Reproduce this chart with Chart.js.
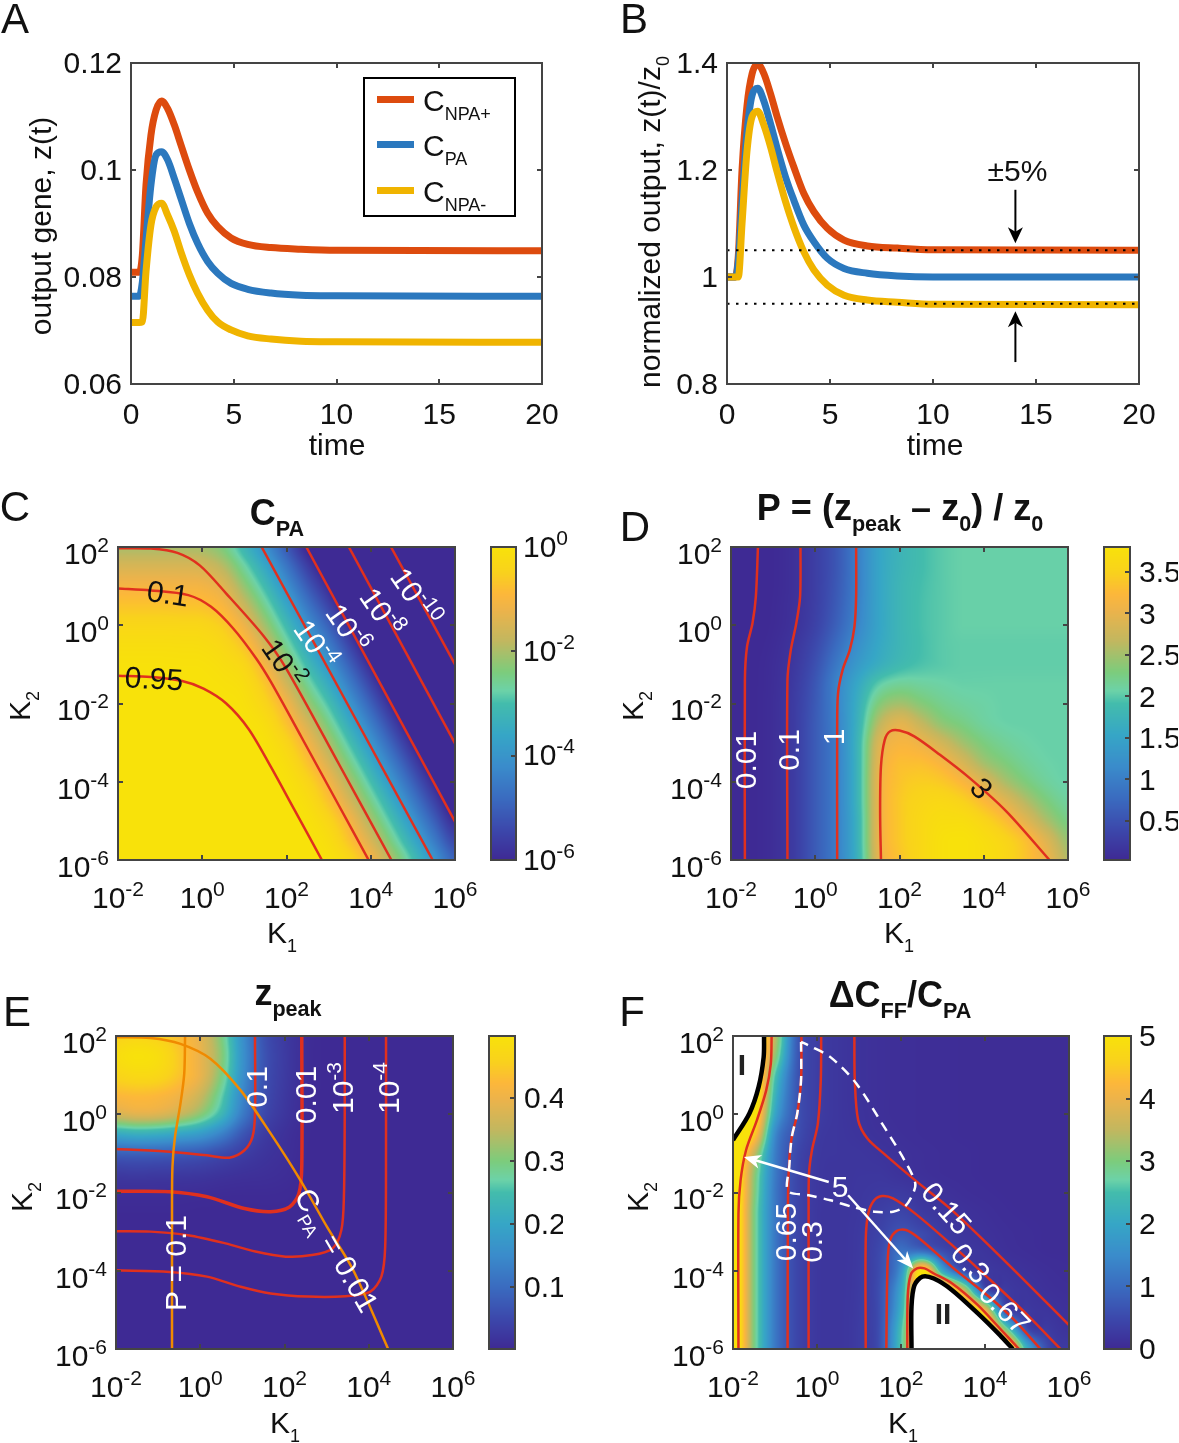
<!DOCTYPE html>
<html><head><meta charset="utf-8">
<script src="https://cdn.jsdelivr.net/npm/chart.js@4"></script>
<style>html,body{margin:0;padding:0;background:#fff}#page{position:relative;width:1179px;height:1443px;overflow:hidden}canvas{position:absolute;left:0;top:0}</style>
</head><body><div id="page"></div>
<script>
/* ---------- time-course data (panels A, B) ---------- */
const timePoints=[0,.4,.55,.73,.97,1.22,1.49,1.78,2.11,2.43,2.84,3.24,3.73,4.22,4.87,5.68,6.81,8.27,10,20];
const zNpaPlus=[.0809,.0809,.084,.0972,.1065,.1112,.1129,.1115,.1084,.1047,.1,.0959,.0919,.0894,.0873,.0861,.0855,.0852,.085,.0849];
const zPa=[.0764,.0764,.079,.087,.0972,.1028,.1034,.1019,.0984,.0947,.09,.0863,.0829,.0807,.0788,.0777,.077,.0766,.0765,.0764];
const zNpaMinus=[.0715,.0715,.0716,.081,.0897,.0931,.0938,.0916,.0885,.0847,.0804,.077,.0738,.0716,.0701,.069,.0684,.068,.0679,.0678];
const nNpaPlus=[1,1,1.04,1.2,1.32,1.38,1.398,1.381,1.343,1.3,1.25,1.206,1.156,1.122,1.091,1.069,1.058,1.054,1.051,1.05];
const nPa=[1,1,1.03,1.14,1.27,1.34,1.353,1.33,1.287,1.241,1.187,1.144,1.097,1.066,1.035,1.016,1.007,1.002,1,1];
const nNpaMinus=[1,1,1,1.1,1.235,1.3,1.31,1.285,1.244,1.197,1.141,1.094,1.047,1.013,.985,.966,.957,.953,.949,.948];
const toleranceBands=[1.05,0.95];
const timeTicks=[0,5,10,15,20];
const aTicks=[.06,.08,.1,.12], aTickLabels=['0.06','0.08','0.1','0.12'];
const bTicks=[.8,1,1.2,1.4], bTickLabels=['0.8','1','1.2','1.4'];

/* ---------- axes of the K1/K2 maps ---------- */
const k1Ticks=[1e-2,1,1e2,1e4,1e6], k1Exp=['-2','0','2','4','6'];
const k2Ticks=[1e-6,1e-4,1e-2,1,1e2], k2Exp=['-6','-4','-2','0','2'];
const gridLogK1=[-2,-1.5,-1,-.5,0,.5,1,1.5,2,2.5,3,3.5,4,4.5,5,5.5,6];
const gridLogK2=[2,1.5,1,.5,0,-.5,-1,-1.5,-2,-2.5,-3,-3.5,-4,-4.5,-5,-5.5,-6];

/* ---------- panel C: log10(C_PA) ---------- */
const mapC=[
[-2,-2,-2,-2,-2.05,-2.4,-3.2,-4.1,-5.1,-6.1,-7,-8,-8,-8,-8,-8,-8],
[-1.5,-1.5,-1.5,-1.5,-1.55,-1.9,-2.7,-3.6,-4.6,-5.6,-6.5,-7.5,-8,-8,-8,-8,-8],
[-1.05,-1.05,-1.05,-1.07,-1.1,-1.4,-2.2,-3.1,-4.1,-5.1,-6,-7,-8,-8,-8,-8,-8],
[-.7,-.7,-.7,-.72,-.75,-1,-1.7,-2.6,-3.6,-4.6,-5.5,-6.5,-7.5,-8,-8,-8,-8],
[-.35,-.35,-.35,-.36,-.38,-.6,-1.2,-2.1,-3.1,-4.1,-5,-6,-7,-8,-8,-8,-8],
[-.15,-.15,-.15,-.16,-.18,-.33,-.75,-1.6,-2.6,-3.6,-4.5,-5.5,-6.5,-7.5,-8,-8,-8],
[-.04,-.04,-.04,-.05,-.06,-.16,-.38,-1.1,-2.1,-3.1,-4,-5,-6,-7,-8,-8,-8],
[-.01,-.01,-.01,-.01,-.02,-.06,-.18,-.7,-1.6,-2.6,-3.5,-4.5,-5.5,-6.5,-7.5,-8,-8],
[0,0,0,0,0,-.01,-.08,-.42,-1.1,-2.1,-3,-4,-5,-6,-7,-8,-8],
[0,0,0,0,0,0,-.02,-.18,-.75,-1.55,-2.5,-3.5,-4.5,-5.5,-6.5,-7.5,-8],
[0,0,0,0,0,0,0,-.05,-.4,-1.1,-2,-3,-4,-5,-6,-7,-8],
[0,0,0,0,0,0,0,-.01,-.18,-.74,-1.54,-2.5,-3.5,-4.5,-5.5,-6.5,-7.5],
[0,0,0,0,0,0,0,0,-.05,-.4,-1.08,-2,-3,-4,-5,-6,-7],
[0,0,0,0,0,0,0,0,-.01,-.18,-.73,-1.53,-2.5,-3.5,-4.5,-5.5,-6.45],
[0,0,0,0,0,0,0,0,0,-.05,-.38,-1.05,-2,-3,-4,-5,-5.95],
[0,0,0,0,0,0,0,0,0,-.01,-.17,-.73,-1.51,-2.5,-3.5,-4.5,-5.45],
[0,0,0,0,0,0,0,0,0,0,-.05,-.37,-1.05,-2,-3,-4,-4.95]];
const cLevel095=[[-2,-1.29],[-1.22,-1.32],[-.5,-1.42],[.03,-1.62],[.57,-2],[1.1,-2.65],[1.63,-3.62],[2.17,-4.68],[2.84,-6]];
const cLevel01=[[-2,.94],[-1.22,.89],[-.33,.77],[.21,.47],[.74,-.09],[1.28,-.85],[1.63,-1.45],[2.35,-2.85],[3.24,-4.6],[3.95,-6]];
const cLevelE2=[[-2,1.97],[-1.22,1.96],[-.59,1.85],[-.06,1.53],[.57,.81],[1.46,-.28],[1.99,-1.1],[3.24,-3.54],[4.49,-6]];
const cLevelE4=[[1.41,2],[5.47,-6]];
const cLevelE6=[[2.47,2],[6,-5.02]];
const cLevelE8=[[3.48,2],[6,-3.02]];
const cLevelE10=[[4.48,2],[6,-1]];

/* ---------- panel D: peak P ---------- */
const mapD=[
[.005,.012,.035,.11,.28,.55,1,1.5,1.75,1.9,2,2.05,2.05,2.05,2.05,2.05,2.05],
[.005,.012,.035,.11,.28,.55,1,1.5,1.76,1.9,2,2.05,2.05,2.05,2.05,2.05,2.05],
[.005,.012,.035,.11,.28,.57,1,1.5,1.78,1.92,2,2.05,2.05,2.05,2.05,2.05,2.05],
[.005,.013,.04,.12,.29,.6,1.03,1.5,1.78,1.93,2,2.05,2.05,2.05,2.05,2.05,2.05],
[.006,.015,.045,.13,.32,.66,1.08,1.5,1.78,1.93,2,2.05,2.05,2.05,2.05,2.05,2.05],
[.007,.02,.06,.17,.4,.78,1.2,1.55,1.78,1.92,2,2.03,2.03,2.03,2.03,2.03,2.03],
[.008,.025,.075,.2,.48,.92,1.35,1.65,1.85,1.95,2,2.03,2.03,2.03,2.03,2.03,2.03],
[.008,.027,.08,.23,.55,1.05,1.55,2,2.15,2.12,2.08,2.05,2.05,2.05,2.05,2.05,2.05],
[.008,.028,.085,.25,.58,1.05,1.65,2.3,2.5,2.35,2.2,2.12,2.08,2.05,2.05,2.05,2.05],
[.008,.028,.085,.25,.6,1.03,1.7,2.6,2.95,2.7,2.4,2.25,2.12,2.06,2.05,2.05,2.05],
[.008,.028,.085,.25,.6,1,1.75,2.85,3.15,3.05,2.8,2.5,2.28,2.15,2.08,2.05,2.05],
[.008,.028,.085,.25,.6,1,1.75,2.95,3.3,3.3,3.15,2.85,2.5,2.3,2.15,2.07,2.05],
[.008,.028,.085,.25,.6,1,1.75,3,3.35,3.45,3.4,3.2,2.9,2.55,2.3,2.13,2.05],
[.008,.028,.085,.25,.6,1,1.75,3,3.4,3.55,3.6,3.5,3.25,2.95,2.6,2.3,2.12],
[.008,.028,.085,.25,.6,1,1.72,3,3.4,3.6,3.7,3.7,3.55,3.3,2.95,2.55,2.25],
[.008,.028,.085,.25,.6,1,1.72,3,3.4,3.6,3.75,3.78,3.7,3.55,3.3,2.9,2.45],
[.008,.028,.085,.25,.6,1,1.7,2.95,3.35,3.6,3.75,3.78,3.72,3.6,3.35,3.05,2.6]];
const dLevel001=[[-1.36,2],[-1.41,.73],[-1.49,.05],[-1.62,-.55],[-1.67,-1.4],[-1.67,-6]];
const dLevel01=[[-.35,2],[-.36,.73],[-.45,.05],[-.58,-.63],[-.66,-1.4],[-.66,-6]];
const dLevel1=[[.97,2],[.97,.73],[.93,-.04],[.82,-.63],[.65,-1.14],[.54,-1.74],[.52,-2.67],[.52,-6]];
const dLevel3=[[1.56,-6],[1.54,-4.79],[1.56,-3.6],[1.65,-2.93],[1.78,-2.71],[2,-2.69],[2.35,-2.84],[2.96,-3.31],[3.66,-3.9],[4.53,-4.75],[5.56,-6]];

/* ---------- panel E: z_peak ---------- */
const mapE=[
[.46,.47,.46,.43,.39,.30,.16,.066,.028,.008,.002,.001,.001,.001,.001,.001,.001],
[.485,.495,.485,.445,.395,.31,.165,.07,.03,.008,.002,.001,.001,.001,.001,.001,.001],
[.465,.475,.47,.44,.395,.30,.16,.067,.029,.008,.002,.001,.001,.001,.001,.001,.001],
[.425,.43,.425,.405,.36,.27,.145,.062,.026,.007,.002,.001,.001,.001,.001,.001,.001],
[.37,.385,.38,.355,.31,.235,.125,.052,.022,.006,.002,.001,.001,.001,.001,.001,.001],
[.21,.22,.215,.2,.18,.135,.072,.032,.014,.004,.001,.001,.001,.001,.001,.001,.001],
[.085,.088,.086,.08,.072,.054,.035,.02,.011,.003,.001,.001,.001,.001,.001,.001,.001],
[.03,.032,.03,.029,.026,.02,.015,.012,.008,.002,.001,.001,.001,.001,.001,.001,.001],
[.01,.01,.01,.009,.008,.006,.005,.005,.004,.001,.001,.001,.001,.001,.001,.001,.001],
[.003,.003,.003,.003,.002,.002,.002,.002,.002,.001,.001,.001,.001,.001,.001,.001,.001],
[.001,.001,.001,.001,.001,.001,.001,.001,.001,.001,.001,.001,.001,.001,.001,.001,.001],
[.001,.001,.001,.001,.001,.001,.001,.001,.001,.001,.001,.001,.001,.001,.001,.001,.001],
[.001,.001,.001,.001,.001,.001,.001,.001,.001,.001,.001,.001,.001,.001,.001,.001,.001],
[.001,.001,.001,.001,.001,.001,.001,.001,.001,.001,.001,.001,.001,.001,.001,.001,.001],
[.001,.001,.001,.001,.001,.001,.001,.001,.001,.001,.001,.001,.001,.001,.001,.001,.001],
[.001,.001,.001,.001,.001,.001,.001,.001,.001,.001,.001,.001,.001,.001,.001,.001,.001],
[.001,.001,.001,.001,.001,.001,.001,.001,.001,.001,.001,.001,.001,.001,.001,.001,.001]];
const eLevel01=[[1.3,2],[1.3,.02],[1.24,-.58],[1.05,-.92],[.69,-1.11],[.16,-1.05],[-.73,-.96],[-2,-.89]];
const eLevel001=[[2.41,2],[2.41,-1.34],[2.34,-2.03],[2.12,-2.37],[1.67,-2.49],[1.05,-2.41],[.16,-2.11],[-.73,-1.98],[-2,-1.97]];
const eLevelE3=[[3.43,2],[3.43,.02],[3.41,-2.11],[3.35,-2.96],[3.14,-3.43],[2.65,-3.6],[2.03,-3.64],[1.31,-3.51],[.6,-3.3],[-.29,-3.09],[-1.18,-3],[-2,-2.99]];
const eLevelE4=[[4.41,2],[4.41,-.83],[4.39,-3.39],[4.3,-4.15],[4.03,-4.54],[3.45,-4.65],[2.56,-4.66],[1.67,-4.58],[.96,-4.41],[.16,-4.15],[-.73,-4.03],[-2,-3.99]];
const ePeak01=[[-.36,2],[-.38,1.04],[-.47,.27],[-.6,-.58],[-.66,-1.34],[-.67,-2.54],[-.67,-6]];
const eCpa001=[[-2,1.97],[-1.18,1.95],[-.47,1.8],[.24,1.42],[.96,.61],[1.67,-.49],[2.38,-1.69],[3.01,-2.88],[3.63,-3.98],[4.46,-6]];

/* ---------- panel F: delta C_FF / C_PA ---------- */
const mapF=[
[5.5,5.5,3.5,.85,.32,.2,.14,.1,.08,.07,.06,.05,.05,.05,.05,.05,.05],
[5.5,5.5,3.2,.82,.32,.2,.14,.1,.08,.07,.06,.05,.05,.05,.05,.05,.05],
[5.5,5.5,2.6,.75,.32,.2,.14,.1,.08,.07,.06,.05,.05,.05,.05,.05,.05],
[5.5,5.5,2.3,.72,.32,.2,.14,.1,.08,.07,.06,.05,.05,.05,.05,.05,.05],
[5.5,5.2,2,.7,.32,.2,.15,.1,.08,.07,.06,.05,.05,.05,.05,.05,.05],
[5.5,4.6,1.5,.62,.27,.2,.16,.12,.09,.07,.06,.05,.05,.05,.05,.05,.05],
[5.5,3.6,1.3,.5,.24,.2,.19,.16,.12,.09,.07,.06,.05,.05,.05,.05,.05],
[5.5,3.2,1.25,.48,.23,.19,.2,.2,.14,.1,.07,.06,.05,.05,.05,.05,.05],
[5.5,3.1,1.2,.47,.23,.19,.21,.25,.26,.17,.12,.08,.06,.05,.05,.05,.05],
[5.5,3,1.2,.47,.22,.19,.22,.33,.42,.26,.19,.13,.09,.06,.05,.05,.05],
[5.5,3,1.2,.47,.22,.19,.24,.4,.65,.5,.27,.17,.12,.08,.06,.05,.05],
[5.5,3,1.2,.47,.22,.19,.25,.5,1.1,1.05,.55,.27,.17,.1,.07,.05,.05],
[5.5,3,1.2,.47,.22,.19,.26,.55,1.6,5,2,.55,.27,.18,.12,.08,.06],
[5.5,3,1.2,.47,.22,.19,.27,.6,2,5.5,5.5,3.6,.67,.28,.18,.11,.08],
[5.5,3,1.2,.47,.22,.19,.28,.6,2.2,5.5,5.5,5.5,4,.6,.25,.17,.11],
[5.5,3,1.2,.47,.22,.19,.29,.62,2.5,5.5,5.5,5.5,5.5,3,.55,.27,.15],
[5.5,3,1.2,.47,.22,.19,.29,.62,2.6,5.5,5.5,5.5,5.5,5.5,2.2,.5,.24]];
const fBoundI=[[-1.26,2],[-1.27,1.46],[-1.39,.7],[-1.61,.02],[-2,-.66]];
const fBoundII=[[2.25,-6],[2.25,-4.92],[2.32,-4.37],[2.51,-4.15],[2.78,-4.2],[3.21,-4.49],[3.83,-5.09],[4.35,-5.64],[4.66,-6]];
const fRegionI=[[-2,2],[-1.26,2],[-1.27,1.46],[-1.3,1.1],[-1.39,.7],[-1.5,.33],[-1.61,.02],[-1.8,-.34],[-2,-.66]];
const fRegionII=[[2.25,-6],[2.25,-4.92],[2.32,-4.37],[2.51,-4.15],[2.78,-4.2],[3.21,-4.49],[3.83,-5.09],[4.35,-5.64],[4.66,-6]];
const fLevel5a=[[-1.08,2],[-1.1,1.29],[-1.21,.61],[-1.43,-.15],[-1.69,-.92],[-1.82,-1.69],[-1.87,-2.54],[-1.87,-6]];
const fLevel5b=[[2.15,-6],[2.16,-4.66],[2.23,-4.11],[2.38,-3.94],[2.56,-3.94],[2.78,-4.07],[3.21,-4.32],[3.83,-4.88],[4.35,-5.47],[4.81,-6]];
const fLevel065=[[-.37,2],[-.38,.87],[-.47,.02],[-.6,-.58],[-.66,-1.17],[-.69,-2.11],[-.7,-6]];
const fLevel03a=[[.1,2],[.09,.87],[.02,-.24],[-.12,-.92],[-.19,-1.51],[-.2,-2.54],[-.2,-6]];
const fLevel015=[[.89,2],[.9,.87],[.98,-.15],[1.2,-.62],[1.64,-1.05],[2.34,-1.69],[3.21,-2.45],[4.53,-3.81],[6,-5.39]];
const fLevel03b=[[1.16,-6],[1.16,-3.22],[1.22,-2.54],[1.36,-2.2],[1.55,-2.09],[1.81,-2.15],[2.34,-2.54],[3.21,-3.34],[4.09,-4.2],[4.97,-5.09],[5.8,-6]];
const fLevel067=[[1.65,-6],[1.68,-3.81],[1.74,-3.22],[1.9,-2.98],[2.12,-2.96],[2.43,-3.17],[3.21,-3.9],[4.09,-4.66],[4.7,-5.26],[5.32,-6]];
const fDashed=[[-.38,1.85],[-.38,.87],[-.47,.02],[-.6,-.58],[-.66,-1.34],[-.69,-1.96],[-.2,-2.07],[.32,-2.2],[.85,-2.37],[1.37,-2.49],[1.81,-2.49],[2.08,-2.37],[2.25,-2.11],[2.34,-1.77],[2.08,-1.17],[1.55,-.24],[.94,.78],[.32,1.46],[-.2,1.76],[-.38,1.85]];

/* ---------- colour bar ticks ---------- */
const barCTicks=[1e-6,1e-4,1e-2,1], barCExp=['-6','-4','-2','0'];
const barDTicks=[.5,1,1.5,2,2.5,3,3.5], barDLabels=['0.5','1','1.5','2','2.5','3','3.5'];
const barETicks=[.1,.2,.3,.4], barELabels=['0.1','0.2','0.3','0.4'];
const barFTicks=[0,1,2,3,4,5], barFLabels=['0','1','2','3','4','5'];

/* ---------- look ---------- */
const W=1179,H=1443,FONT='"Liberation Sans"',BOX='#444444',INK='#111111';
const ORANGE='#DD4B0E',BLUE='#2B78BE',YELLOW='#F0B400',RED='#E0301E',AMBER='#F08A00';
const TXT=30,TITLE=36,LETTER=42;
const STOPS=[[0,62,42,148],[.1,60,73,172],[.2,58,108,192],[.3,58,140,203],[.4,54,166,198],[.5,67,188,172],[.54,108,210,168],[.6,124,204,124],[.7,194,183,95],[.8,237,179,74],[.85,252,183,58],[.92,249,210,28],[1,248,226,10]];
function cmap(t){t=Math.max(0,Math.min(1,t));for(let i=1;i<STOPS.length;i++){if(t<=STOPS[i][0]){const a=STOPS[i-1],b=STOPS[i],f=(t-a[0])/(b[0]-a[0]);return [a[1]+(b[1]-a[1])*f,a[2]+(b[2]-a[2])*f,a[3]+(b[3]-a[3])*f];}}return STOPS[STOPS.length-1].slice(1);}

/* rich text with _{sub} and ^{sup} */
function rich(ctx,str,x,y,o={}){
  const size=o.size||TXT,weight=o.bold?'bold ':'',color=o.color||INK,align=o.align||'c',rot=(o.rot||0)*Math.PI/180;
  const toks=str.match(/\^\{[^}]*\}|_\{[^}]*\}|[^_^]+/g)||[];
  const segs=toks.map(t=>{
    if(t[0]==='^')return{t:t.slice(2,-1),s:size*.70,dy:-size*.40};
    if(t[0]==='_')return{t:t.slice(2,-1),s:size*.60,dy:size*.30};
    return{t,s:size,dy:0};});
  ctx.save();ctx.fillStyle=color;ctx.textAlign='left';ctx.textBaseline='alphabetic';
  let total=0;segs.forEach(s=>{ctx.font=weight+s.s+'px '+FONT;s.w=ctx.measureText(s.t).width;total+=s.w;});
  ctx.translate(x,y);ctx.rotate(rot);
  let cx=align==='c'?-total/2:align==='r'?-total:0;
  segs.forEach(s=>{ctx.font=weight+s.s+'px '+FONT;ctx.fillText(s.t,cx,size*.36+s.dy);cx+=s.w;});
  ctx.restore();
}
function arrow(ctx,x0,y0,x1,y1,color,lw,len,wid){
  const a=Math.atan2(y1-y0,x1-x0);ctx.save();ctx.strokeStyle=color;ctx.fillStyle=color;ctx.lineWidth=lw;
  ctx.beginPath();ctx.moveTo(x0,y0);ctx.lineTo(x1-Math.cos(a)*len*.7,y1-Math.sin(a)*len*.7);ctx.stroke();
  ctx.translate(x1,y1);ctx.rotate(a);ctx.beginPath();ctx.moveTo(0,0);ctx.lineTo(-len,-wid/2);ctx.lineTo(-len*.72,0);ctx.lineTo(-len,wid/2);ctx.closePath();ctx.fill();ctx.restore();
}
const pts=a=>a.map(p=>({x:10**p[0],y:10**p[1]}));
const contour=(a,color=RED,w=2.5,extra={})=>Object.assign({data:pts(a),borderColor:color,borderWidth:w,pointRadius:0,tension:.3,fill:false},extra);
const series=(ys,color,w=7)=>({data:timePoints.map((t,i)=>({x:t,y:ys[i]})),borderColor:color,borderWidth:w,pointRadius:0,cubicInterpolationMode:'monotone',fill:false,borderCapStyle:'butt'});

const boxPlugin=(mirror=true)=>({id:'box',afterDatasetsDraw(ch){
  const c=ch.ctx,a=ch.chartArea,X=ch.scales.x,Y=ch.scales.y;c.save();c.strokeStyle=BOX;c.lineWidth=2;
  if(X.options.display!==false){X.ticks.forEach(t=>{const p=Math.round(X.getPixelForValue(t.value));c.beginPath();c.moveTo(p,a.bottom);c.lineTo(p,a.bottom-5);c.moveTo(p,a.top);c.lineTo(p,a.top+5);c.stroke();});}
  Y.ticks.forEach(t=>{const p=Math.round(Y.getPixelForValue(t.value));c.beginPath();if(mirror){c.moveTo(a.left,p);c.lineTo(a.left+5,p);}c.moveTo(a.right,p);c.lineTo(a.right-5,p);c.stroke();});
  c.strokeRect(a.left,a.top,a.width,a.height);c.restore();}});

/* heat map: grid values placed through the chart's own log scales */
function heatPlugin(matrix,norm){
  const cr=(p0,p1,p2,p3,f)=>{const v=.5*(2*p1+(p2-p0)*f+(2*p0-5*p1+4*p2-p3)*f*f+(3*p1-p0-3*p2+p3)*f*f*f);return Math.max(Math.min(p1,p2)-.02*Math.abs(p1-p2),Math.min(Math.max(p1,p2)+.02*Math.abs(p1-p2),v));};
  const n=gridLogK1.length,m=gridLogK2.length,x0=gridLogK1[0],dx=gridLogK1[1]-x0,y0=gridLogK2[0],dy=gridLogK2[1]-y0;
  const at=(r,c)=>matrix[Math.max(0,Math.min(m-1,r))][Math.max(0,Math.min(n-1,c))];
  return {id:'heat',beforeDatasetsDraw(ch){
    const a=ch.chartArea,X=ch.scales.x,Y=ch.scales.y,w=Math.round(a.width),h=Math.round(a.height);
    const off=document.createElement('canvas');off.width=w;off.height=h;const oc=off.getContext('2d'),img=oc.createImageData(w,h);
    for(let py=0;py<h;py++){const ly=(Math.log10(Y.getValueForPixel(a.top+py+.5))-y0)/dy;const r=Math.max(0,Math.min(m-1.001,ly)),ri=Math.floor(r),rf=r-ri;
      for(let px=0;px<w;px++){const lx=(Math.log10(X.getValueForPixel(a.left+px+.5))-x0)/dx;const q=Math.max(0,Math.min(n-1.001,lx)),ci=Math.floor(q),cf=q-ci;
        const col=[-1,0,1,2].map(k=>cr(at(ri+k,ci-1),at(ri+k,ci),at(ri+k,ci+1),at(ri+k,ci+2),cf));
        const v=cr(col[0],col[1],col[2],col[3],rf),rgb=cmap(norm(v)),i=(py*w+px)*4;
        img.data[i]=rgb[0];img.data[i+1]=rgb[1];img.data[i+2]=rgb[2];img.data[i+3]=255;}}
    oc.putImageData(img,0,0);ch.ctx.drawImage(off,a.left,a.top);}};
}
function barPlugin(norm){return {id:'bar',beforeDatasetsDraw(ch){
  const a=ch.chartArea,Y=ch.scales.y,c=ch.ctx;
  for(let py=Math.floor(a.top);py<a.bottom;py++){const rgb=cmap(norm(Y.getValueForPixel(py+.5)));c.fillStyle='rgb('+rgb.map(Math.round).join(',')+')';c.fillRect(a.left,py,a.width,1);}}};}
const logLabels=()=>({id:'logLabels',afterDraw(ch){
  const c=ch.ctx,a=ch.chartArea,X=ch.scales.x,Y=ch.scales.y;
  k1Ticks.forEach((v,i)=>rich(c,'10^{'+k1Exp[i]+'}',X.getPixelForValue(v),a.bottom+37,{}));
  k2Ticks.forEach((v,i)=>rich(c,'10^{'+k2Exp[i]+'}',a.left-9,Y.getPixelForValue(v)+6,{align:'r'}));}});
const overlay=(fn)=>({id:'overlay',afterDraw(ch){fn(ch.ctx,ch);}});

const page=document.getElementById('page');
const AXL=100,AXB=60,AXR=48;
function mount(rect,config,plugins,kind){
  const cv=document.createElement('canvas');cv.width=W;cv.height=H;cv.style.width=W+'px';cv.style.height=H+'px';page.appendChild(cv);
  const pad={left:rect[0],top:rect[1],right:W-rect[2],bottom:H-rect[3]};
  if(kind==='time'){pad.left-=AXL;pad.bottom-=AXB;}
  if(kind==='bar'){pad.right-=AXR;}
  const n=config.data.datasets.length;config.data.datasets.forEach((d,i)=>{d.order=n-i;});
  config.options=Object.assign({responsive:false,animation:false,devicePixelRatio:1,events:[],layout:{padding:pad},
    plugins:{legend:{display:false},tooltip:{enabled:false}}},config.options);
  return new Chart(cv,{type:'line',data:config.data,options:config.options,plugins});
}
const font={family:FONT,size:TXT};
const noGrid={display:false,drawTicks:false};
const linX=(vals)=>({type:'linear',min:0,max:20,grid:noGrid,border:{display:false},afterBuildTicks:s=>{s.ticks=vals.map(v=>({value:v}));},afterFit:s=>{s.height=AXB;},ticks:{autoSkip:false,maxRotation:0,color:INK,font,padding:14,callback:v=>String(v)}});
const linY=(min,max,vals,labels,pos='left',pad=9)=>({type:'linear',position:pos,min,max,grid:noGrid,border:{display:false},afterBuildTicks:s=>{s.ticks=vals.map(v=>({value:v}));},afterFit:s=>{s.width=pos==='left'?AXL:AXR;},ticks:{autoSkip:false,color:INK,font,padding:pad,labelOffset:2,callback:(v,i)=>labels[i]}});
const logAxis=(vals,isX)=>({type:'logarithmic',min:Math.min(...vals),max:Math.max(...vals),grid:noGrid,border:{display:false},ticks:{display:false},afterBuildTicks:s=>{s.ticks=vals.map(v=>({value:v}));},afterFit:s=>{if(isX)s.height=0;else s.width=0;}});
const hiddenX={display:false,min:0,max:1,type:'linear'};

/* ===== A ===== */
mount([131,63,542,384],{data:{datasets:[series(zNpaPlus,ORANGE),series(zPa,BLUE),series(zNpaMinus,YELLOW)]},
  options:{scales:{x:linX(timeTicks),y:linY(.06,.12,aTicks,aTickLabels)}}},[boxPlugin(),overlay((c)=>{
  rich(c,'A',15,18,{size:LETTER});
  rich(c,'time',337,444);
  rich(c,'output gene, z(t)',40,226,{rot:-90});
  c.save();c.fillStyle='#fff';c.fillRect(364,78,151,138);c.strokeStyle='#000';c.lineWidth=2;c.strokeRect(364,78,151,138);c.restore();
  [[99,ORANGE,'C_{NPA+}'],[144,BLUE,'C_{PA}'],[190,YELLOW,'C_{NPA-}']].forEach(r=>{c.fillStyle=r[1];c.fillRect(377,r[0]-3,37,7);rich(c,r[2],423,r[0]+1,{align:'l'});});
})],'time');

/* ===== B ===== */
const bandSet=v=>({data:[{x:0,y:v},{x:20,y:v}],borderColor:'#000',borderWidth:2,borderDash:[2.5,6.5],pointRadius:0,fill:false});
mount([727,63,1139,384],{data:{datasets:[series(nNpaPlus,ORANGE),series(nPa,BLUE),series(nNpaMinus,YELLOW),bandSet(toleranceBands[0]),bandSet(toleranceBands[1])]},
  options:{scales:{x:linX(timeTicks),y:linY(.8,1.4,bTicks,bTickLabels)}}},[boxPlugin(),overlay((c,ch)=>{
  const X=ch.scales.x,Y=ch.scales.y;
  rich(c,'B',634,18,{size:LETTER});
  rich(c,'time',935,444);
  rich(c,'normalized output, z(t)/z_{0}',649,222,{rot:-90});
  rich(c,'±5%',X.getPixelForValue(14.1),Y.getPixelForValue(1.2));
  arrow(c,X.getPixelForValue(14),Y.getPixelForValue(1.163),X.getPixelForValue(14),Y.getPixelForValue(1.063),'#000',2,16,15);
  arrow(c,X.getPixelForValue(14),Y.getPixelForValue(.841),X.getPixelForValue(14),Y.getPixelForValue(.936),'#000',2,16,15);
})],'time');

/* ===== C ===== */
mount([118,547,455,860],{data:{datasets:[cLevel095,cLevel01,cLevelE2,cLevelE4,cLevelE6,cLevelE8,cLevelE10].map(a=>contour(a))},
  options:{scales:{x:logAxis(k1Ticks,true),y:logAxis(k2Ticks,false)}}},[heatPlugin(mapC,v=>(v+6)/6),boxPlugin(),logLabels(),overlay(c=>{
  rich(c,'C',15,506,{size:LETTER});
  rich(c,'C_{PA}',277,512,{size:TITLE,bold:true});
  rich(c,'K_{1}',282,932);
  rich(c,'K_{2}',19.5,706,{rot:-90});
  rich(c,'0.1',168,593,{rot:8});
  rich(c,'0.95',154,678,{rot:3});
  rich(c,'10^{-2}',284,663,{rot:55});
  rich(c,'10^{-4}',316,644,{rot:55,color:'#fff'});
  rich(c,'10^{-6}',348,628,{rot:55,color:'#fff'});
  rich(c,'10^{-8}',382,612,{rot:55,color:'#fff'});
  rich(c,'10^{-10}',416,597,{rot:55,color:'#fff'});
})]);
mount([491,547,516,860],{data:{datasets:[]},options:{scales:{x:hiddenX,y:Object.assign(logAxis(barCTicks,false),{position:'right'})}}},
  [barPlugin(v=>(Math.log10(v)+6)/6),boxPlugin(false),overlay((c,ch)=>{barCTicks.forEach((v,i)=>rich(c,'10^{'+barCExp[i]+'}',523,ch.scales.y.getPixelForValue(v)-1,{align:'l'}));})]);

/* ===== D ===== */
mount([731,547,1068,860],{data:{datasets:[dLevel001,dLevel01,dLevel1,dLevel3].map(a=>contour(a))},
  options:{scales:{x:logAxis(k1Ticks,true),y:logAxis(k2Ticks,false)}}},[heatPlugin(mapD,v=>(v-.03)/3.77),boxPlugin(),logLabels(),overlay(c=>{
  rich(c,'D',635,526,{size:LETTER});
  rich(c,'P = (z_{peak} – z_{0}) / z_{0}',900,507,{size:TITLE,bold:true});
  rich(c,'K_{1}',899,932);
  rich(c,'K_{2}',632,706,{rot:-90});
  rich(c,'0.01',745,760,{rot:-90,color:'#fff'});
  rich(c,'0.1',788,750,{rot:-90,color:'#fff'});
  rich(c,'1',833,737,{rot:-90,color:'#fff'});
  rich(c,'3',982,788,{rot:50});
})]);
mount([1104,547,1130,860],{data:{datasets:[]},options:{scales:{x:hiddenX,y:linY(.03,3.8,barDTicks,barDLabels,'right',9)}}},
  [barPlugin(v=>(v-.03)/3.77),boxPlugin(false)],'bar');

/* ===== E ===== */
mount([116,1036,453,1349],{data:{datasets:[contour(eLevel01),contour(eLevel001,RED,3.5),contour(eLevelE3),contour(eLevelE4),contour(ePeak01,AMBER),contour(eCpa001,AMBER)]},
  options:{scales:{x:logAxis(k1Ticks,true),y:logAxis(k2Ticks,false)}}},[heatPlugin(mapE,v=>(v-.002)/.496),boxPlugin(),logLabels(),overlay(c=>{
  rich(c,'E',17,1011,{size:LETTER});
  rich(c,'z_{peak}',288,992,{size:TITLE,bold:true});
  rich(c,'K_{1}',285,1422);
  rich(c,'K_{2}',21,1197,{rot:-90});
  rich(c,'P = 0.1',175,1263,{rot:-90,color:'#fff'});
  rich(c,'0.1',256,1087,{rot:-90,color:'#fff'});
  rich(c,'0.01',305,1095,{rot:-90,color:'#fff'});
  rich(c,'10^{-3}',342,1088,{rot:-90,color:'#fff'});
  rich(c,'10^{-4}',388,1088,{rot:-90,color:'#fff'});
  rich(c,'C_{PA} = 0.01',337,1250,{rot:60,color:'#fff'});
})]);
mount([489,1036,515,1349],{data:{datasets:[]},options:{scales:{x:hiddenX,y:linY(.002,.498,barETicks,barELabels,'right',9)}}},
  [barPlugin(v=>(v-.002)/.496),boxPlugin(false)],'bar');

/* ===== F ===== */
const region=a=>({data:pts(a),backgroundColor:'#fff',borderColor:'#fff',borderWidth:0,pointRadius:0,tension:0,fill:'shape'});
mount([733,1036,1069,1349],{data:{datasets:[region(fRegionI),region(fRegionII),
  contour(fLevel5a),contour(fLevel5b),contour(fLevel065),contour(fLevel03a),contour(fLevel015),contour(fLevel03b),contour(fLevel067),
  contour(fBoundI,'#000',4.5),contour(fBoundII,'#000',4.5),contour(fDashed,'#fff',2.5,{borderDash:[10,7]})]},
  options:{scales:{x:logAxis(k1Ticks,true),y:logAxis(k2Ticks,false)}}},[heatPlugin(mapF,v=>v/5),boxPlugin(),logLabels(),overlay((c,ch)=>{
  const X=ch.scales.x,Y=ch.scales.y,px=v=>X.getPixelForValue(10**v),py=v=>Y.getPixelForValue(10**v);
  rich(c,'F',632,1011,{size:LETTER});
  rich(c,'ΔC_{FF}/C_{PA}',900,994,{size:TITLE,bold:true});
  rich(c,'K_{1}',903,1422);
  rich(c,'K_{2}',637,1197,{rot:-90});
  rich(c,'0.65',785,1232,{rot:-90,color:'#fff'});
  rich(c,'0.3',811,1242,{rot:-90,color:'#fff'});
  rich(c,'0.15',947,1208,{rot:48,color:'#fff'});
  rich(c,'0.3',971,1263,{rot:48,color:'#fff'});
  rich(c,'0.67',1005,1308,{rot:45,color:'#fff'});
  rich(c,'I',742,1064,{bold:true,color:'#222'});
  rich(c,'II',943,1313,{bold:true,color:'#222'});
  rich(c,'5',840,1186,{color:'#fff'});
  arrow(c,px(.28),py(-1.73),px(-1.74),py(-1.09),'#fff',2.5,17,14);
  arrow(c,px(.74),py(-2.07),px(2.29),py(-3.94),'#fff',2.5,17,14);
})]);
mount([1104,1036,1131,1349],{data:{datasets:[]},options:{scales:{x:hiddenX,y:linY(0,5,barFTicks,barFLabels,'right',8)}}},
  [barPlugin(v=>v/5),boxPlugin(false)],'bar');
</script></body></html>
